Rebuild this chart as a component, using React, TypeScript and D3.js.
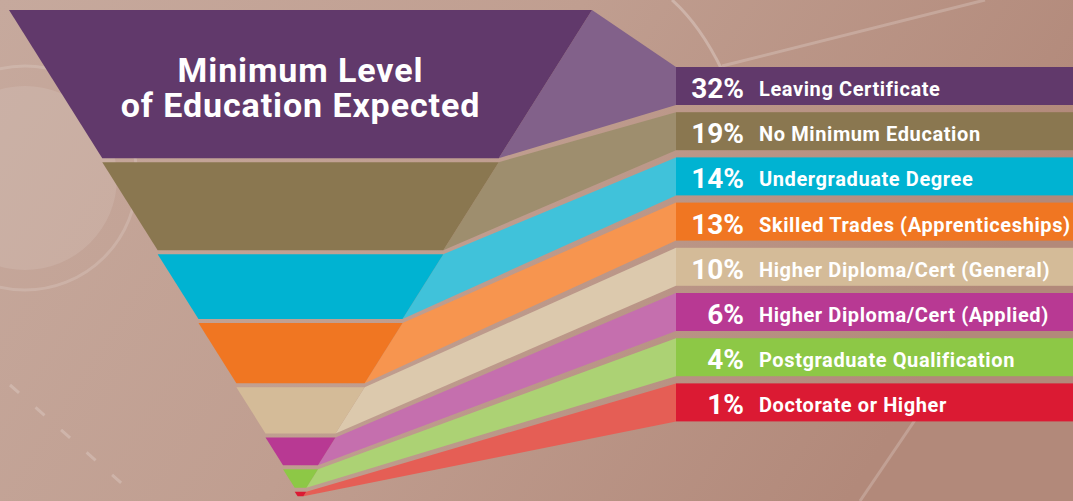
import React from "react";
import * as d3 from "d3";

const categories = [
  "Leaving Certificate",
  "No Minimum Education",
  "Undergraduate Degree",
  "Skilled Trades (Apprenticeships)",
  "Higher Diploma/Cert (General)",
  "Higher Diploma/Cert (Applied)",
  "Postgraduate Qualification",
  "Doctorate or Higher",
];
const values = [32, 19, 14, 13, 10, 6, 4, 1];
const mainColors = ["#61396b", "#8a7750", "#00b3d2", "#f07622", "#d4bb98", "#b83993", "#8dc846", "#db1a33"];
const lightColors = ["#82618a", "#9e8e6e", "#40c2da", "#f7954f", "#dcc9ad", "#c56fae", "#acd274", "#e55e55"];
const titleLines = ["Minimum Level", "of Education Expected"];

const W = 1073;
const H = 501;
const FONT = "Roboto, 'DejaVu Sans', sans-serif";

export default function App() {
  const gap = 4;
  const cx = 300.5;
  // funnel height (without gaps) mapped from cumulative percentage
  const yRaw = d3.scaleLinear().domain([0, 100]).range([10, 473]);
  const halfW = d3.scaleLinear().domain([10, 473]).range([291.5, 0]);
  const rowY = d3.scaleLinear().domain([0, 7]).range([67, 383.4]);
  const boxH = 38;
  const boxX = 676;

  const cum = d3.cumsum(values);
  const segs = values.map((v, i) => {
    const c0 = i === 0 ? 0 : cum[i - 1];
    const r0 = yRaw(c0);
    const r1 = yRaw(cum[i]);
    const y0 = r0 + i * gap;
    const y1 = r1 + i * gap;
    return { v, i, y0, y1, w0: halfW(r0), w1: halfW(r1) };
  });

  const pts = (p: [number, number][]) => p.map((d) => d.join(",")).join(" ");

  return (
    <svg width={W} height={H} style={{ position: "fixed", left: 0, top: 0 }}>
      <defs>
        <linearGradient id="bg" x1="0" y1="0" x2="1" y2="0.3">
          <stop offset="0" stopColor="#c6a99d" />
          <stop offset="0.5" stopColor="#c09e90" />
          <stop offset="1" stopColor="#b2897a" />
        </linearGradient>
      </defs>
      <rect width={W} height={H} fill="url(#bg)" />
      {/* faint background decoration */}
      <circle cx={25} cy={178} r={92} fill="#fff" opacity={0.1} />
      <circle cx={25} cy={178} r={112} fill="none" stroke="#fff" strokeWidth={3} opacity={0.15} />
      <path d="M672,0 Q700,25 722,70" fill="none" stroke="#fff" strokeWidth={3} opacity={0.25} />
      <path d="M722,66 L985,0" fill="none" stroke="#fff" strokeWidth={3} opacity={0.2} />
      <path d="M860,501 L915,420" fill="none" stroke="#fff" strokeWidth={3} opacity={0.2} />
      <path d="M10,385 L135,495" fill="none" stroke="#fff" strokeWidth={3} strokeDasharray="12 22" opacity={0.2} />

      {segs.map((s) => {
        const bt = rowY(s.i);
        return (
          <g key={s.i}>
            <polygon
              points={pts([
                [cx + s.w0, s.y0],
                [boxX, bt],
                [boxX, bt + boxH],
                [cx + s.w1, s.y1],
              ])}
              fill={lightColors[s.i]}
            />
            <polygon
              points={pts([
                [cx - s.w0, s.y0],
                [cx + s.w0, s.y0],
                [cx + s.w1, s.y1],
                [cx - s.w1, s.y1],
              ])}
              fill={mainColors[s.i]}
            />
            <rect x={boxX} y={bt} width={W - boxX} height={boxH} fill={mainColors[s.i]} />
            <text
              x={744}
              y={bt + 31}
              textAnchor="end"
              fill="#fff"
              fontFamily={FONT}
              fontWeight={700}
              fontSize={28}
            >
              {s.v}%
            </text>
            <text
              x={759}
              y={bt + 29}
              fill="#fff"
              fontFamily={FONT}
              fontWeight={700}
              fontSize={20}
              letterSpacing={0.6}
            >
              {categories[s.i]}
            </text>
          </g>
        );
      })}

      {titleLines.map((t, i) => (
        <text
          key={i}
          x={cx}
          y={82 + i * 35}
          textAnchor="middle"
          fill="#fff"
          fontFamily={FONT}
          fontWeight={700}
          fontSize={34}
          letterSpacing={0.9}
        >
          {t}
        </text>
      ))}
    </svg>
  );
}
